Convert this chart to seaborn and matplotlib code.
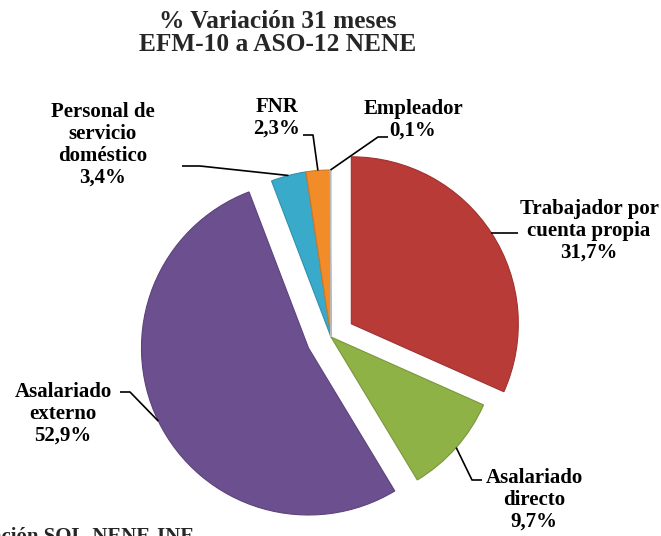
import numpy as np
import matplotlib
matplotlib.use("Agg")
import matplotlib.pyplot as plt
import seaborn as sns

# --- datos ---
categorias = ["Trabajador por\ncuenta propia", "Asalariado\ndirecto", "Asalariado\nexterno",
              "Personal de\nservicio\ndoméstico", "FNR", "Empleador"]
valores = [31.7, 9.7, 52.9, 3.4, 2.3, 0.1]
colores = ["#B93B38", "#8FB247", "#6C4F8F", "#3AAACB", "#F28C28", "#D9D9D9"]
titulo = "% Variación 31 meses\nEFM-10 a ASO-12 NENE"
fuente = "Fuente: Elaboración SQL-NENE-INE"

# --- layout (pixeles de la figura 661x536) ---
W, H = 661, 536
CX, CY, R = 331, 337, 167
explode = [0.145, 0.0, 0.15, 0.0, 0.0, 0.0]
# posicion del texto y codo de la linea guia
pos_texto = [(589, 231), (534, 500), (63, 414), (103, 145), (277, 118), (413, 120)]
codos = [None, (472, 480), (130, 392), (200, 166), (313, 135), (378, 137)]
finales = [(518, None), (482, 480), (120, 392), (182, 166), (303, 135), (388, 137)]


def px(x, y):
    return (x - CX) / R, (CY - y) / R


sns.set_theme(style="white")
plt.rcParams["font.family"] = ["Liberation Serif", "DejaVu Serif"]
plt.rcParams["font.weight"] = "bold"

fig = plt.figure(figsize=(W / 100, H / 100), dpi=100)
ax = fig.add_axes([0, 0, 1, 1])

pal = sns.color_palette(colores)
wedges, _ = ax.pie(valores, colors=pal, explode=explode, startangle=90,
                   counterclock=False, radius=1,
                   wedgeprops=dict(linewidth=0.8, edgecolor="white"))

# la pie fija sus propios limites; se reemplazan para ubicar el centro
ax.set_aspect("auto")
ax.set_xlim(-CX / R, (W - CX) / R)
ax.set_ylim((CY - H) / R, CY / R)
ax.axis("off")

for w, col in zip(wedges, pal):
    w.set_edgecolor(tuple(c * 0.85 for c in col))

for i, (w, cat, v) in enumerate(zip(wedges, categorias, valores)):
    mid = np.deg2rad((w.theta1 + w.theta2) / 2)
    cx, cy = w.center
    borde = (cx + w.r * np.cos(mid), cy + w.r * np.sin(mid))
    fx, fy = finales[i]
    if fy is None:
        puntos = [borde, (px(fx, 0)[0], borde[1])]
    else:
        puntos = [borde, px(*codos[i]), px(fx, fy)]
    xs, ys = zip(*puntos)
    ax.plot(xs, ys, color="black", lw=1.2, solid_capstyle="butt")
    tx, ty = px(*pos_texto[i])
    etiqueta = f"{cat}\n{v:.1f}%".replace(".", ",")
    ax.text(tx, ty, etiqueta, ha="center", va="center", fontsize=15,
            fontweight="bold", linespacing=1.12, color="black")

fig.text(278 / W, 1 - 33 / H, titulo, ha="center", va="center",
         fontsize=18.3, fontweight="bold", linespacing=1.05)
fig.text(194 / W, (H - 542) / H, fuente, ha="right", va="baseline",
         fontsize=15, fontweight="bold")

fig.savefig("out.png", dpi=100)
